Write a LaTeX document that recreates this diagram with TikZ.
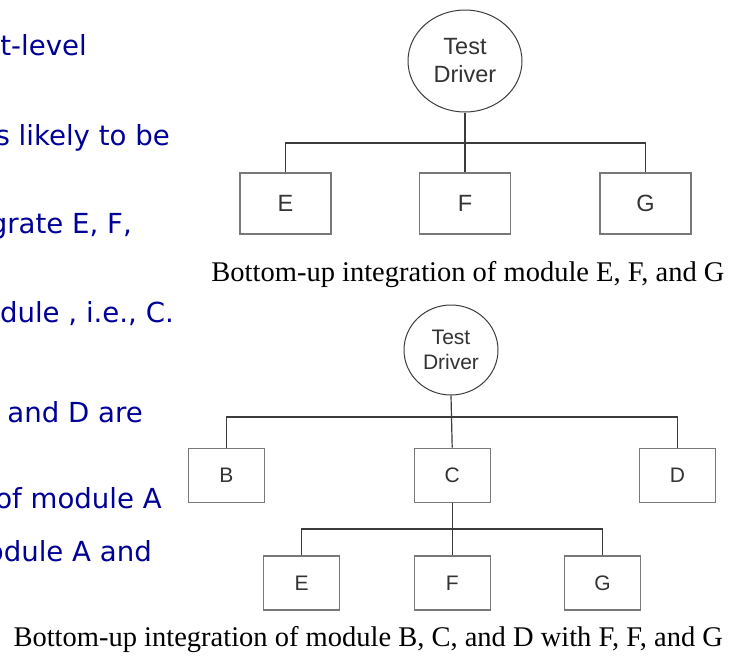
\documentclass[tikz,border=0pt]{standalone}
\usepackage{fontspec}
\setmainfont{Liberation Serif}
\setsansfont{Liberation Sans}
\newfontfamily\slidefont{DejaVu Sans}
\usetikzlibrary{shapes.geometric}
\definecolor{slideblue}{RGB}{0,0,150}
\definecolor{boxgray}{RGB}{120,120,120}
\definecolor{linegray}{RGB}{60,60,60}
\tikzstyle{slidetext} = [anchor=base east,inner sep=0pt,text=slideblue,
    font=\slidefont\fontsize{27.6}{27.6}\selectfont]
\tikzstyle{caption} = [anchor=base,inner sep=0pt,font=\fontsize{28.5}{28.5}\selectfont]
\tikzstyle{modbox} = [draw=boxgray,line width=1.4pt,inner sep=0pt,text=black!80,
    font=\sffamily\fontsize{21}{21}\selectfont]
\tikzstyle{bigbox} = [modbox,minimum width=91pt,minimum height=61pt,
    font=\sffamily\fontsize{23.5}{23.5}\selectfont]
\tikzstyle{smallbox} = [modbox,minimum width=76pt,minimum height=54pt]
\tikzstyle{driver} = [ellipse,draw=linegray,line width=1pt,inner sep=0pt,align=center,
    text=black!80,font=\sffamily\fontsize{21}{24.5}\selectfont]
\tikzstyle{conn} = [draw=linegray,line width=1.2pt]

\begin{document}
\begin{tikzpicture}[x=1pt,y=-1pt]
    \clip (0,0) rectangle (734,662);
    \fill[white] (0,0) rectangle (734,662);

    % slide text, cut off at the left
    \node(txtA) at (87,55) [slidetext] {st-level};
    \node(txtB) at (170,145) [slidetext] {s likely to be};
    \node(txtC) at (132,233) [slidetext] {grate E, F,};
    \node(txtD) at (174,322) [slidetext] {dule , i.e., C.};
    \node(txtE) at (143,422) [slidetext] {and D are};
    \node(txtF) at (162,508) [slidetext] {of module A};
    \node(txtG) at (152,561) [slidetext] {odule A and};

    % E, F, G under a driver
    \node(drvA) at (465,61) [driver,minimum width=114pt,minimum height=102pt,
        font=\sffamily\fontsize{23.5}{28}\selectfont] {Test\\Driver};
    \node(eA) at (285.5,203.5) [bigbox] {E};
    \node(fA) at (465,203.5) [bigbox] {F};
    \node(gA) at (645.5,203.5) [bigbox] {G};
    \coordinate(barA) at (465,143);
    \draw[conn] (drvA.south) -- (fA.north);
    \draw[conn] (eA.north) |- (barA) -| (gA.north);
    \node(capA) at (468,281.5) [caption] {Bottom-up integration of module E, F, and G};

    % B, C, D under a driver, E, F, G under C
    \node(drvB) at (451,350) [driver,minimum width=94pt,minimum height=90pt] {Test\\Driver};
    \node(b) at (226.3,475.2) [smallbox] {B};
    \node(c) at (452.2,475.2) [smallbox] {C};
    \node(d) at (677.5,475.2) [smallbox] {D};
    \node(eB) at (301.7,583) [smallbox] {E};
    \node(fB) at (452.2,583) [smallbox] {F};
    \node(gB) at (602.5,583) [smallbox] {G};
    \coordinate(barB) at (451,417);
    \coordinate(barC) at (452.2,529);
    \draw[conn] (drvB.south) -- (c.north);
    \draw[conn] (b.north) |- (barB) -| (d.north);
    \draw[conn] (c.south) -- (fB.north);
    \draw[conn] (eB.north) |- (barC) -| (gB.north);
    \node(capB) at (368.3,646) [caption] {Bottom-up integration of module B, C, and D with F, F, and G};
\end{tikzpicture}
\end{document}
